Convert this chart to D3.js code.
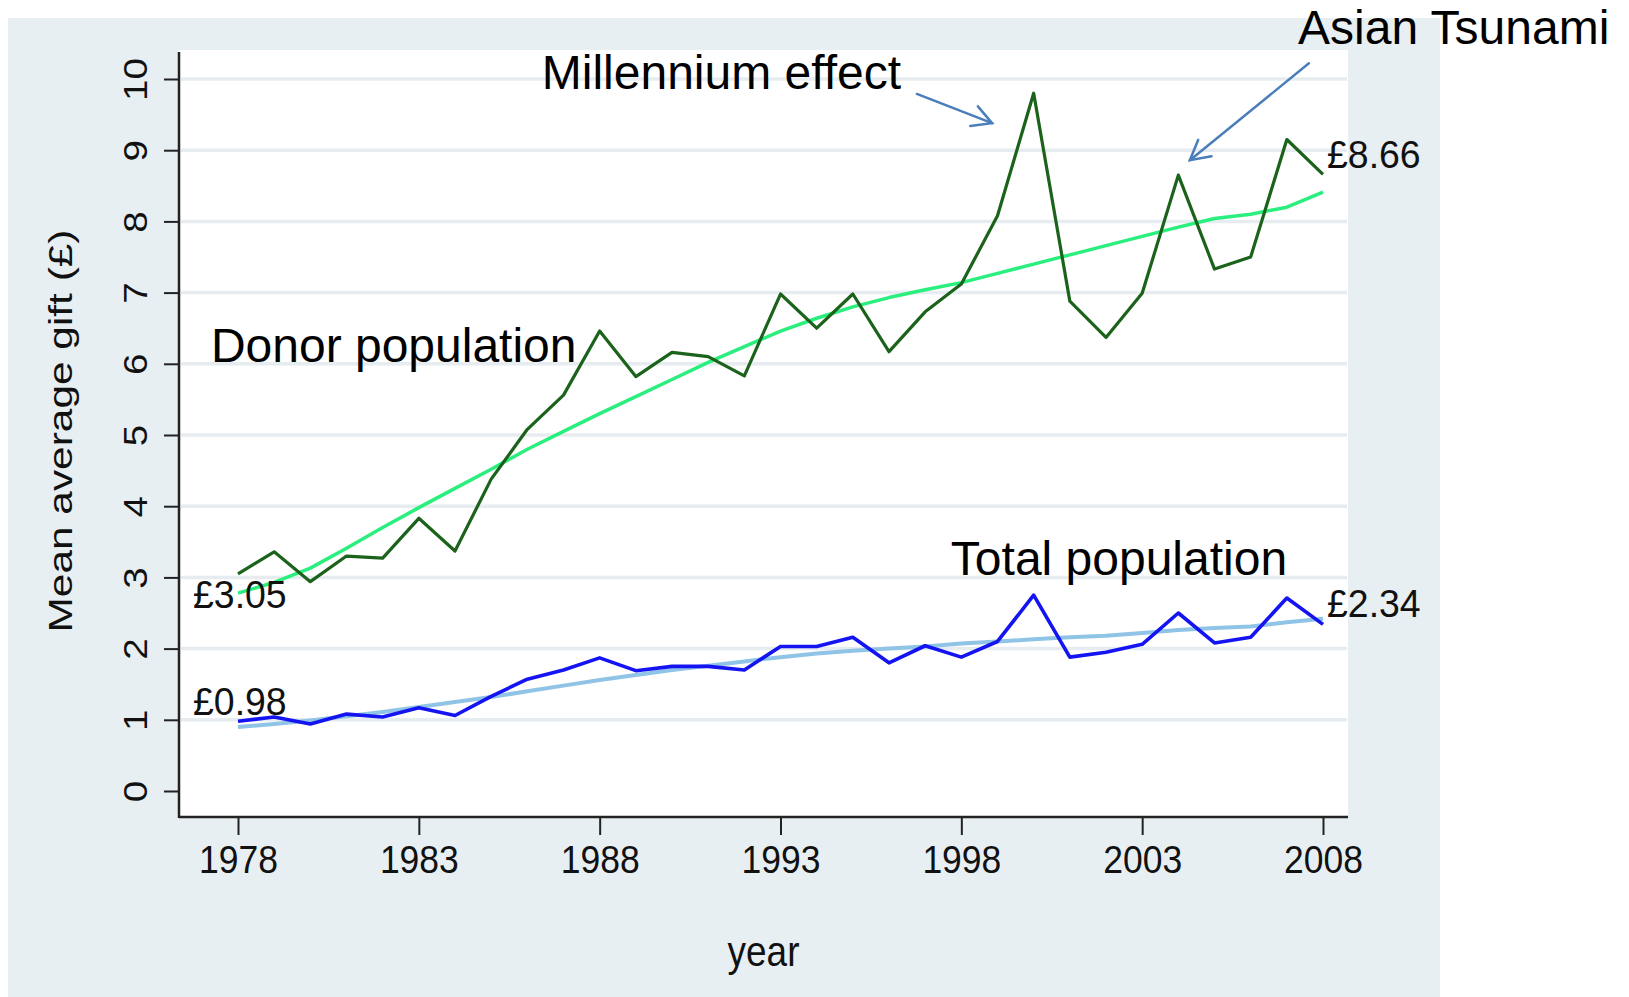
<!DOCTYPE html>
<html>
<head>
<meta charset="utf-8">
<script src="https://cdn.jsdelivr.net/npm/d3@7"></script>
<style>
  body { margin: 0; background: #fff; }
  text { font-family: "Liberation Sans", Arial, Helvetica, sans-serif; }
</style>
</head>
<body>
<div id="chart"></div>
<script>
// mean average gift, donors vs whole population, 1978-2008
var years = [1978, 1979, 1980, 1981, 1982, 1983, 1984, 1985, 1986, 1987, 1988, 1989, 1990, 1991, 1992, 1993,
    1994, 1995, 1996, 1997, 1998, 1999, 2000, 2001, 2002, 2003, 2004, 2005, 2006, 2007, 2008];
var donorGift = [3.05, 3.36, 2.94, 3.30, 3.27, 3.83, 3.37, 4.38, 5.08, 5.56, 6.46, 5.82, 6.16, 6.10, 5.83, 6.98,
    6.50, 6.98, 6.17, 6.73, 7.12, 8.08, 9.80, 6.88, 6.37, 6.99, 8.65, 7.33, 7.50, 9.15, 8.66];
var donorTrend = [2.78, 2.93, 3.13, 3.41, 3.70, 3.98, 4.25, 4.52, 4.80, 5.05, 5.30, 5.54, 5.78, 6.02, 6.24, 6.46,
    6.64, 6.80, 6.93, 7.04, 7.14, 7.27, 7.40, 7.53, 7.66, 7.79, 7.92, 8.04, 8.10, 8.20, 8.41];
var totalGift = [0.98, 1.04, 0.94, 1.08, 1.04, 1.17, 1.06, 1.33, 1.57, 1.70, 1.87, 1.69, 1.75, 1.75, 1.70, 2.03,
    2.03, 2.16, 1.80, 2.04, 1.88, 2.10, 2.75, 1.88, 1.95, 2.06, 2.50, 2.08, 2.16, 2.71, 2.34];
var totalTrend = [0.90, 0.94, 0.99, 1.05, 1.11, 1.18, 1.25, 1.32, 1.40, 1.48, 1.56, 1.63, 1.70, 1.76, 1.82, 1.88,
    1.93, 1.97, 2.00, 2.03, 2.07, 2.10, 2.13, 2.16, 2.18, 2.22, 2.26, 2.29, 2.31, 2.37, 2.42];
var yTicks = [0, 1, 2, 3, 4, 5, 6, 7, 8, 9, 10];
var xTicks = [1978, 1983, 1988, 1993, 1998, 2003, 2008];
var endLabels = ["£3.05", "£0.98", "£8.66", "£2.34"];

var width = 1629,
    height = 997;

var svg = d3.select('#chart')
    .append('svg')
    .attr('width', width)
    .attr('height', height);

// plot region (in px) -- don't call these top/left, they clash with window globals
var plotL = 179, plotR = 1348, plotT = 50, plotB = 817;

var x = d3.scaleLinear().domain([1978, 2008]).range([238, 1323]);
var y = d3.scaleLinear().domain([0, 10]).range([791, 79]);

// grey graph background and white plot area
svg.append('rect')
    .attr('x', 8).attr('y', 18)
    .attr('width', 1440 - 8).attr('height', height - 18)
    .attr('fill', '#e8eff2');
svg.append('rect')
    .attr('x', plotL).attr('y', plotT)
    .attr('width', plotR - plotL).attr('height', plotB - plotT)
    .attr('fill', '#fff');

// gridlines
svg.append('g')
    .selectAll('line')
    .data(yTicks.filter(function (d) { return d > 0; }))
    .enter().append('line')
    .attr('x1', plotL + 2).attr('x2', plotR - 1)
    .attr('y1', function (d) { return y(d); })
    .attr('y2', function (d) { return y(d); })
    .attr('stroke', '#e6ecef')
    .attr('stroke-width', 3.5);

// y axis
var yAxis = svg.append('g')
    .attr('transform', 'translate(' + plotL + ',0)')
    .call(d3.axisLeft(y).tickValues(yTicks).tickSize(15).tickFormat(d3.format('d')));
yAxis.select('.domain').remove();
yAxis.selectAll('.tick line').attr('stroke', '#222').attr('stroke-width', 2);
yAxis.selectAll('.tick text')
    .attr('x', null).attr('dy', null)
    .attr('text-anchor', 'middle')
    .attr('transform', 'translate(-32,0) rotate(-90) scale(1.17,1)')
    .style('font-size', '33px')
    .attr('fill', '#111');

// x axis
var xAxis = svg.append('g')
    .attr('transform', 'translate(0,' + plotB + ')')
    .call(d3.axisBottom(x).tickValues(xTicks).tickSize(18).tickFormat(d3.format('d')));
xAxis.select('.domain').remove();
xAxis.selectAll('.tick line').attr('stroke', '#222').attr('stroke-width', 2);
xAxis.selectAll('.tick text')
    .attr('y', null).attr('dy', null)
    .attr('text-anchor', 'middle')
    .attr('transform', 'translate(0,56) scale(0.91,1)')
    .style('font-size', '39px')
    .attr('fill', '#111');

// axis lines
svg.append('line')
    .attr('x1', plotL).attr('x2', plotL)
    .attr('y1', plotT + 2).attr('y2', plotB + 1)
    .attr('stroke', '#222').attr('stroke-width', 2.5);
svg.append('line')
    .attr('x1', plotL).attr('x2', plotR)
    .attr('y1', plotB).attr('y2', plotB)
    .attr('stroke', '#222').attr('stroke-width', 2.5);

// axis titles
svg.append('text')
    .attr('transform', 'translate(72,431) rotate(-90)')
    .attr('text-anchor', 'middle')
    .attr('textLength', 403)
    .attr('lengthAdjust', 'spacingAndGlyphs')
    .style('font-size', '33px')
    .attr('fill', '#111')
    .text('Mean average gift (£)');
svg.append('text')
    .attr('transform', 'translate(' + ((plotL + plotR) / 2) + ',966) scale(0.88,1)')
    .attr('text-anchor', 'middle')
    .style('font-size', '42px')
    .attr('fill', '#111')
    .text('year');

// series
var series = [
    { values: donorTrend, color: '#2aef7e', w: 3.5 },
    { values: totalTrend, color: '#8fc4e7', w: 4 },
    { values: donorGift, color: '#1b621b', w: 3.2 },
    { values: totalGift, color: '#1414f2', w: 3.6 }
];

var line = d3.line()
    .x(function (d, i) { return x(years[i]); })
    .y(function (d) { return y(d); });

svg.append('g')
    .selectAll('path')
    .data(series)
    .enter().append('path')
    .attr('d', function (d) { return line(d.values); })
    .attr('fill', 'none')
    .attr('stroke', function (d) { return d.color; })
    .attr('stroke-width', function (d) { return d.w; })
    .attr('stroke-linejoin', 'round');

// labels at first / last point
var last = years.length - 1;
var labelPos = [
    { yr: years[0], v: donorGift[0], dx: -45, dy: 34 },
    { yr: years[0], v: totalGift[0], dx: -45, dy: -6 },
    { yr: years[last], v: donorGift[last], dx: 4, dy: -6 },
    { yr: years[last], v: totalGift[last], dx: 4, dy: -7 }
];
svg.append('g')
    .selectAll('text')
    .data(labelPos)
    .enter().append('text')
    .attr('transform', function (d) {
        return 'translate(' + (x(d.yr) + d.dx) + ',' + (y(d.v) + d.dy) + ') scale(0.96,1)';
    })
    .style('font-size', '39px')
    .attr('fill', '#111')
    .text(function (d, i) { return endLabels[i]; });

// slide annotations
var notes = [
    { t: 'Millennium effect', yr: 1986.4, v: 9.86 },
    { t: 'Asian Tsunami', yr: 2007.31, v: 10.49 },
    { t: 'Donor population', yr: 1977.25, v: 6.03 },
    { t: 'Total population', yr: 1997.71, v: 3.03 }
];
svg.append('g')
    .selectAll('text')
    .data(notes)
    .enter().append('text')
    .attr('x', function (d) { return x(d.yr); })
    .attr('y', function (d) { return y(d.v); })
    .style('font-size', '48px')
    .attr('fill', '#000')
    .text(function (d) { return d.t; });

var arrows = [
    { from: [1996.77, 9.79], to: [1998.85, 9.38] },
    { from: [2007.61, 10.22], to: [2004.32, 8.86] }
];
var arrowG = svg.append('g')
    .attr('stroke', '#4a7ebb')
    .attr('stroke-width', 2.5)
    .attr('fill', 'none')
    .attr('stroke-linecap', 'round');
arrows.forEach(function (a) {
    var x1 = x(a.from[0]), y1 = y(a.from[1]),
        x2 = x(a.to[0]), y2 = y(a.to[1]);
    var ang = Math.atan2(y2 - y1, x2 - x1) + Math.PI;
    var len = 22, spread = 0.5;
    arrowG.append('line')
        .attr('x1', x1).attr('y1', y1).attr('x2', x2).attr('y2', y2);
    arrowG.append('path')
        .attr('d', 'M' + (x2 + len * Math.cos(ang - spread)) + ',' + (y2 + len * Math.sin(ang - spread)) +
            'L' + x2 + ',' + y2 +
            'L' + (x2 + len * Math.cos(ang + spread)) + ',' + (y2 + len * Math.sin(ang + spread)));
});
</script>
</body>
</html>
